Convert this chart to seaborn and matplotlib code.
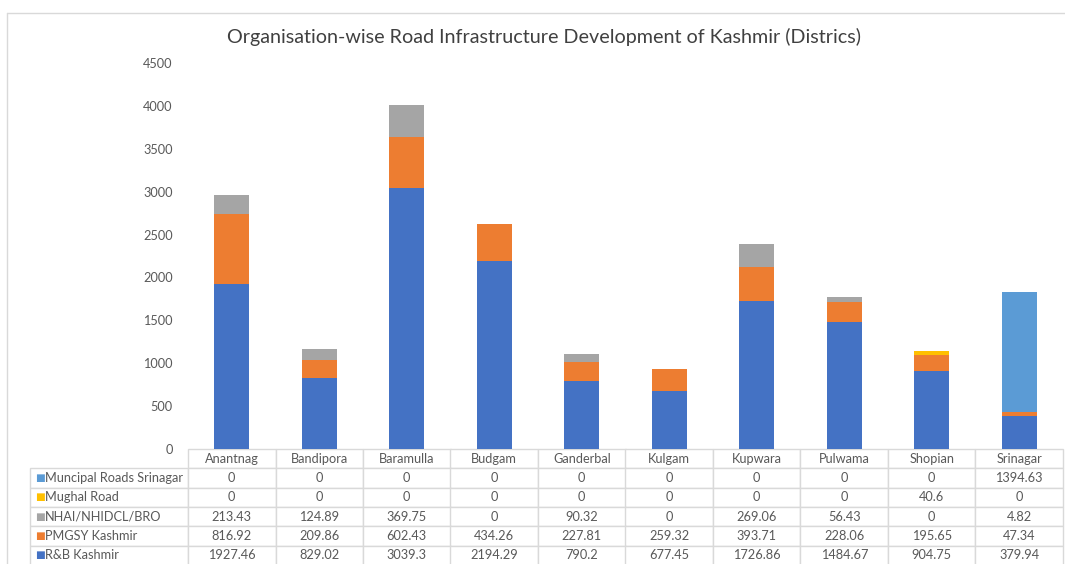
import matplotlib
matplotlib.use("Agg")
import matplotlib.pyplot as plt
from matplotlib.lines import Line2D
import numpy as np
import pandas as pd
import seaborn as sns

# District-wise road length by executing organisation
districts = ["Anantnag", "Bandipora", "Baramulla", "Budgam", "Ganderbal",
             "Kulgam", "Kupwara", "Pulwama", "Shopian", "Srinagar"]
rb_kashmir = [1927.46, 829.02, 3039.3, 2194.29, 790.2, 677.45, 1726.86, 1484.67, 904.75, 379.94]
pmgsy_kashmir = [816.92, 209.86, 602.43, 434.26, 227.81, 259.32, 393.71, 228.06, 195.65, 47.34]
nhai_bro = [213.43, 124.89, 369.75, 0, 90.32, 0, 269.06, 56.43, 0, 4.82]
mughal_road = [0, 0, 0, 0, 0, 0, 0, 0, 40.6, 0]
municipal_srinagar = [0, 0, 0, 0, 0, 0, 0, 0, 0, 1394.63]

series_names = ["R&B Kashmir", "PMGSY Kashmir", "NHAI/NHIDCL/BRO",
                "Mughal Road", "Muncipal Roads Srinagar"]
series_values = [rb_kashmir, pmgsy_kashmir, nhai_bro, mughal_road, municipal_srinagar]
series_colors = ["#4472C4", "#ED7D31", "#A5A5A5", "#FFC000", "#5B9BD5"]

sns.set_theme(style="white")
plt.rcParams["font.family"] = ["Lato", "DejaVu Sans"]
text_grey = "#595959"
rule_grey = "#D9D9D9"

W, H = 1065, 564
fig = plt.figure(figsize=(W / 100, H / 100), dpi=100)
ax = fig.add_axes([188 / W, 1 - 449 / H, 875 / W, (449 - 63) / H])

# Stacked columns: draw cumulative totals from the top layer down
df = pd.DataFrame({name: vals for name, vals in zip(series_names, series_values)},
                  index=districts)
cum = df.cumsum(axis=1)
for name, color in reversed(list(zip(series_names, series_colors))):
    layer = pd.DataFrame({"district": districts, "value": cum[name].values})
    sns.barplot(data=layer, x="district", y="value", order=districts, color=color,
                saturation=1, width=0.4, linewidth=0, ax=ax)

ax.set_xlim(-0.5, len(districts) - 0.5)
ax.set_ylim(0, 4500)
ax.set_yticks(np.arange(0, 4501, 500))
ax.tick_params(axis="y", length=0, pad=11, labelsize=9.2, labelcolor=text_grey)
ax.set_xticks([])
ax.set_xlabel("")
ax.set_ylabel("")
for s in ax.spines.values():
    s.set_visible(False)

# Data table underneath the columns
label_w = 158 / 875
table_rows = [[""] + districts]
display_order = list(range(len(series_names)))[::-1]
fmt = lambda v: ("%g" % v)
for i in display_order:
    table_rows.append([series_names[i]] + [fmt(v) for v in series_values[i]])

n_rows = len(table_rows)
table_h = 116 / 386
tbl = ax.table(cellText=table_rows, cellLoc="center",
               colWidths=[label_w] + [1 / len(districts)] * len(districts),
               bbox=[-label_w, -table_h, 1 + label_w, table_h])
tbl.auto_set_font_size(False)
for (r, c), cell in tbl.get_celld().items():
    cell.set_edgecolor(rule_grey)
    cell.set_linewidth(1.0)
    cell.get_text().set_fontsize(9.2)
    cell.get_text().set_color(text_grey)
    if r == 0 and c == 0:
        cell.visible_edges = ""
    if c == 0 and r > 0:
        cell.get_text().set_ha("left")
        cell._loc = "left"
        cell.PAD = 0.095
tbl.set_clip_on(False)

# Legend keys inside the row-label column
row_h = table_h / n_rows
for k, i in enumerate(display_order):
    yc = -row_h * (k + 1.5)
    ax.text(-label_w + 0.006, yc, "\u25A0", transform=ax.transAxes, ha="left",
            va="center", fontsize=7.5, color=series_colors[i],
            family="DejaVu Sans", clip_on=False)

# Chart frame and title
fig.add_artist(Line2D([7 / W, 1], [1 - 13 / H, 1 - 13 / H], color=rule_grey, lw=1))
fig.add_artist(Line2D([7 / W, 7 / W], [0, 1 - 13 / H], color=rule_grey, lw=1))
fig.text(544 / W, 1 - 37 / H,
         "Organisation-wise Road Infrastructure Development of Kashmir (Districs)",
         ha="center", va="center", fontsize=14.2, color="#404040")

fig.savefig("out.png", dpi=100)
